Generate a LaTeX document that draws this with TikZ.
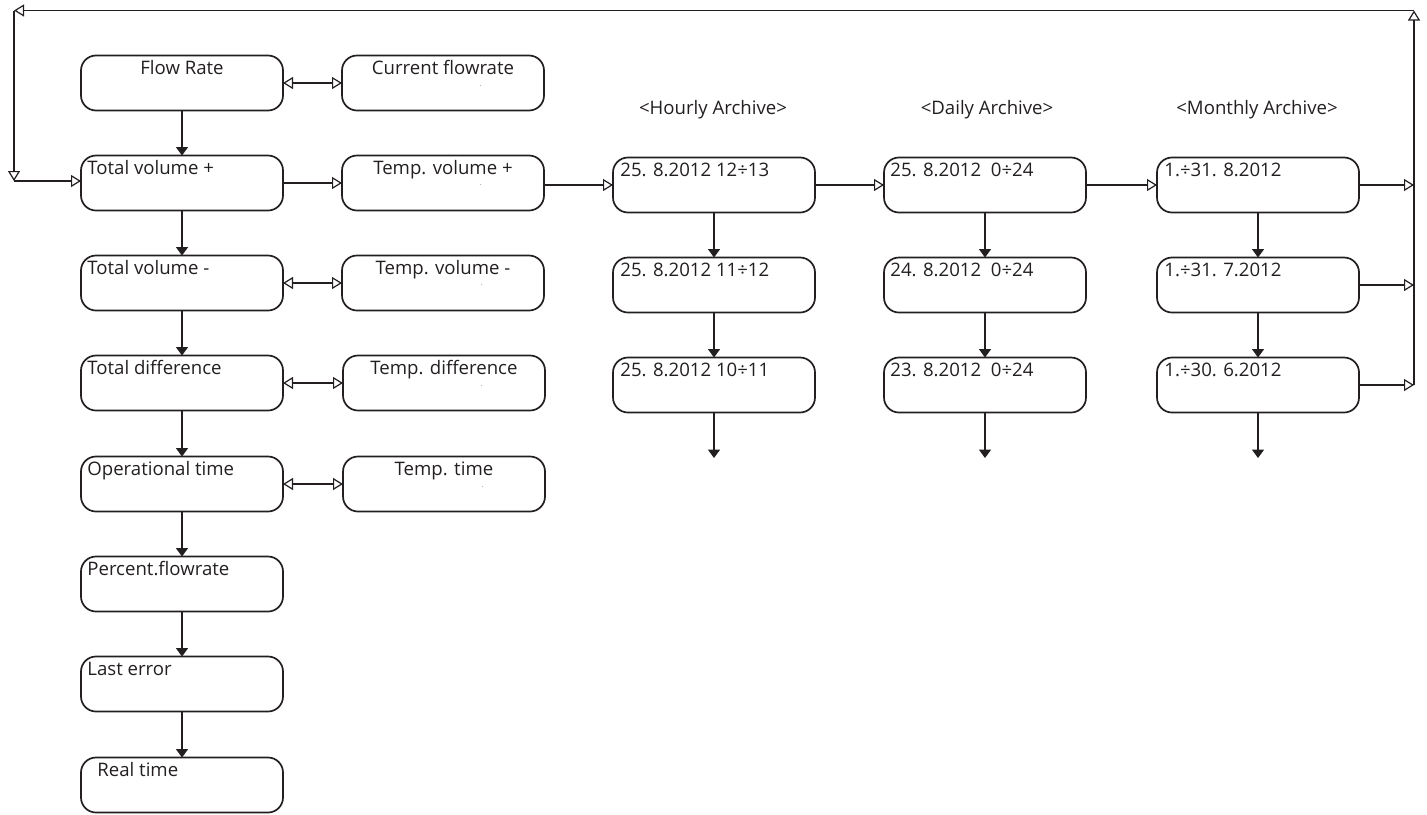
\documentclass[tikz,border=0pt]{standalone}
\usepackage{fontspec}
\setmainfont{Open Sans}
\usetikzlibrary{arrows.meta}
\definecolor{ink}{HTML}{231F20}
\tikzset{
  box/.style={draw=ink, rounded corners=7.5pt, minimum width=101pt, minimum height=27.5pt, line width=0.85pt, inner sep=0pt, outer sep=0pt},
  txt/.style={font=\fontsize{9.3}{11}\selectfont, inner sep=0pt, text=ink},
  dotmark/.style={font=\fontsize{3}{3}\selectfont, inner sep=0pt, text=ink},
  conn/.style={draw=ink, line width=0.6pt},
  oarrow/.style={conn, -{Triangle[open,length=5pt,width=6pt]}},
  barrow/.style={conn, {Triangle[open,length=5pt,width=6pt]}-{Triangle[open,length=5pt,width=6pt]}},
  farrow/.style={conn, -{Triangle[length=4.2pt,width=6pt]}},
  tl/.style={txt, anchor=base west},
  tc/.style={txt, anchor=base}
}
\begin{document}
\begin{tikzpicture}[x=0.5pt,y=-0.5pt]
\useasboundingbox (0,0) rectangle (1427,814);
% left column
\node[box] (fr)  at (182,83)  {};
\node[box] (tvp) at (182,183) {};
\node[box] (tvm) at (182,283) {};
\node[box] (td)  at (182,383) {};
\node[box] (ot)  at (182,484) {};
\node[box] (pf)  at (182,584) {};
\node[box] (le)  at (182,684) {};
\node[box] (rt)  at (182,785) {};
% temp column
\node[box] (cf)   at (443,83)  {};
\node[box] (tmvp) at (443,183) {};
\node[box] (tmvm) at (443,283) {};
\node[box] (tmd)  at (444,383) {};
\node[box] (tmt)  at (444,484) {};
% archives
\node[box] (h1) at (714,185) {};
\node[box] (h2) at (714,285) {};
\node[box] (h3) at (714,385) {};
\node[box] (d1) at (985,185) {};
\node[box] (d2) at (985,285) {};
\node[box] (d3) at (985,385) {};
\node[box] (m1) at (1258,185) {};
\node[box] (m2) at (1258,285) {};
\node[box] (m3) at (1258,385) {};
% texts
\node[tc] (fr-t) at ([yshift=-9.5pt]fr.north) {Flow Rate};
\node[tl] (tvp-t) at ([xshift=3pt,yshift=-9.5pt]tvp.north west) {Total volume +};
\node[tl] (tvm-t) at ([xshift=3pt,yshift=-9.25pt]tvm.north west) {Total volume -};
\node[tl] (td-t) at ([xshift=3pt,yshift=-9.25pt]td.north west) {Total difference};
\node[tl] (ot-t) at ([xshift=3pt,yshift=-9.25pt]ot.north west) {Operational time};
\node[tl] (pf-t) at ([xshift=3pt,yshift=-9.25pt]pf.north west) {Percent.flowrate};
\node[tl] (le-t) at ([xshift=3pt,yshift=-9.25pt]le.north west) {Last error};
\node[tl] (rt-t) at ([xshift=8pt,yshift=-9.25pt]rt.north west) {Real time};
\node[tc] (cf-t) at ([yshift=-9.5pt]cf.north) {Current flowrate};
\node[tc] (tmvp-t) at ([yshift=-9.5pt]tmvp.north) {Temp. volume +};
\node[tc] (tmvm-t) at ([yshift=-9.25pt]tmvm.north) {Temp. volume -};
\node[tc] (tmd-t) at ([yshift=-9.25pt]tmd.north) {Temp. difference};
\node[tc] (tmt-t) at ([yshift=-9.25pt]tmt.north) {Temp. time};
\node[dotmark] (cf-d) at (481,86) {.};
\node[dotmark] (tmvp-d) at (481,185) {.};
\node[dotmark] (tmvm-d) at (482,285) {.};
\node[dotmark] (tmd-d) at (482,386) {.};
\node[dotmark] (tmt-d) at (483,487) {.};
\node[tl] (h1-t) at ([xshift=3.5pt,yshift=-9.5pt]h1.north west) {25. 8.2012 12÷13};
\node[tl] (h2-t) at ([xshift=3.5pt,yshift=-9.5pt]h2.north west) {25. 8.2012 11÷12};
\node[tl] (h3-t) at ([xshift=3.5pt,yshift=-9.5pt]h3.north west) {25. 8.2012 10÷11};
\node[tl] (d1-t) at ([xshift=3pt,yshift=-9.5pt]d1.north west) {25. 8.2012\ \ 0÷24};
\node[tl] (d2-t) at ([xshift=3pt,yshift=-9.5pt]d2.north west) {24. 8.2012\ \ 0÷24};
\node[tl] (d3-t) at ([xshift=3pt,yshift=-9.5pt]d3.north west) {23. 8.2012\ \ 0÷24};
\node[tl] (m1-t) at ([xshift=3.5pt,yshift=-9.5pt]m1.north west) {1.÷31. 8.2012};
\node[tl] (m2-t) at ([xshift=3.5pt,yshift=-9.5pt]m2.north west) {1.÷31. 7.2012};
\node[tl] (m3-t) at ([xshift=3.5pt,yshift=-9.5pt]m3.north west) {1.÷30. 6.2012};
\node[tc] (hl) at (713,114) {<Hourly Archive>};
\node[tc] (dl) at (987,114) {<Daily Archive>};
\node[tc] (ml) at (1257,114) {<Monthly Archive>};
% left column arrows
\draw[farrow] (fr.south) -- (tvp.north);
\draw[farrow] (tvp.south) -- (tvm.north);
\draw[farrow] (tvm.south) -- (td.north);
\draw[farrow] (td.south) -- (ot.north);
\draw[farrow] (ot.south) -- (pf.north);
\draw[farrow] (pf.south) -- (le.north);
\draw[farrow] (le.south) -- (rt.north);
% horizontal
\draw[barrow] (fr.east) -- (cf.west);
\draw[oarrow] (tvp.east) -- (tmvp.west);
\draw[barrow] (tvm.east) -- (tmvm.west);
\draw[barrow] (td.east) -- (tmd.west);
\draw[barrow] (ot.east) -- (tmt.west);
\draw[oarrow] (tmvp.east |- h1.west) -- (h1.west);
\draw[oarrow] (h1.east) -- (d1.west);
\draw[oarrow] (d1.east) -- (m1.west);
% archive verticals
\draw[farrow] (h1.south) -- (h2.north);
\draw[farrow] (h2.south) -- (h3.north);
\draw[farrow] (d1.south) -- (d2.north);
\draw[farrow] (d2.south) -- (d3.north);
\draw[farrow] (m1.south) -- (m2.north);
\draw[farrow] (m2.south) -- (m3.north);
\coordinate (hend) at (714,458);
\coordinate (dend) at (985,458);
\coordinate (mend) at (1258,458);
\draw[farrow] (h3.south) -- (hend);
\draw[farrow] (d3.south) -- (dend);
\draw[farrow] (m3.south) -- (mend);
% return loop
\coordinate (R1) at (1414,185);
\coordinate (R2) at (1414,285);
\coordinate (R3) at (1414,385);
\coordinate (RT) at (1414,10.5);
\coordinate (LT) at (14,10.5);
\coordinate (LB) at (14,181);
\draw[oarrow] (m1.east) -- (R1);
\draw[oarrow] (m2.east) -- (R2);
\draw[oarrow] (m3.east) -- (R3);
\draw[oarrow] (R3) -- (RT);
\draw[oarrow] (RT) -- (LT);
\draw[oarrow] (LT) -- (LB);
\draw[oarrow] (LB) -- (LB -| tvp.west);
\end{tikzpicture}
\end{document}
